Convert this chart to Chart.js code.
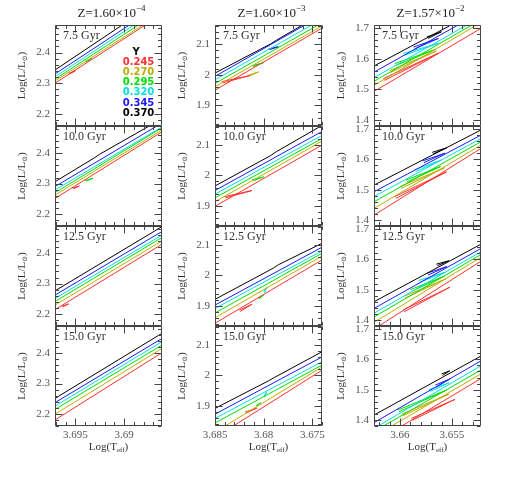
<!DOCTYPE html>
<html>
<head>
<meta charset="utf-8">
<script src="https://cdn.jsdelivr.net/npm/chart.js@4.4.1/dist/chart.umd.min.js"></script>
<style>
  html, body { margin: 0; padding: 0; background: #fff; }
  #wrap { position: relative; width: 507px; height: 477px; overflow: hidden; }
  #wrap canvas { position: absolute; }
</style>
</head>
<body>
<div id="wrap"></div>
<script>
// helium abundances, one track per value (red ... black)
const helium = ['0.245', '0.270', '0.295', '0.320', '0.345', '0.370'];
const trackColors = ['#ff3030', '#bcae00', '#00dd00', '#00e0e0', '#1a1aff', '#000000'];
const ages = ['7.5 Gyr', '10.0 Gyr', '12.5 Gyr', '15.0 Gyr'];
const zMantissa = ['1.60', '1.60', '1.57'];
const zExponent = ['\u22124', '\u22123', '\u22122'];

// axis ranges per column: log Teff (hot edge first) and log L
const teffRange = [[3.6971, 3.6861], [3.685, 3.674], [3.6625, 3.6522]];
const lumRange = [[2.16, 2.49], [1.833, 2.163], [1.38, 1.71]];

// log L of each track at the hot (left) edge and cool (right) edge; rows = ages
const hotL1 = [
  [2.300, 2.307, 2.313, 2.321, 2.330, 2.343],
  [2.251, 2.262, 2.270, 2.279, 2.290, 2.306],
  [2.214, 2.229, 2.241, 2.251, 2.262, 2.276],
  [2.180, 2.199, 2.215, 2.226, 2.237, 2.251]
];
const coolL1 = [
  [2.525, 2.530, 2.540, 2.550, 2.560, 2.577],
  [2.471, 2.477, 2.484, 2.487, 2.500, 2.514],
  [2.430, 2.441, 2.452, 2.460, 2.472, 2.488],
  [2.402, 2.416, 2.427, 2.438, 2.449, 2.466]
];
const hotL2 = [
  [1.950, 1.961, 1.972, 1.984, 1.995, 2.006],
  [1.898, 1.913, 1.926, 1.938, 1.950, 1.965],
  [1.842, 1.860, 1.876, 1.891, 1.902, 1.921],
  [1.795, 1.813, 1.843, 1.858, 1.872, 1.891]
];
const coolL2 = [
  [2.153, 2.160, 2.170, 2.182, 2.195, 2.200],
  [2.100, 2.113, 2.122, 2.132, 2.145, 2.165],
  [2.051, 2.064, 2.073, 2.081, 2.093, 2.106],
  [2.017, 2.028, 2.034, 2.045, 2.061, 2.078]
];
const hotL3 = [
  [1.493, 1.513, 1.526, 1.538, 1.556, 1.576],
  [1.416, 1.438, 1.460, 1.477, 1.493, 1.515],
  [1.370, 1.392, 1.410, 1.422, 1.438, 1.460],
  [1.325, 1.346, 1.362, 1.372, 1.391, 1.416]
];
const coolL3 = [
  [1.699, 1.718, 1.727, 1.736, 1.752, 1.762],
  [1.636, 1.647, 1.658, 1.669, 1.680, 1.697],
  [1.594, 1.607, 1.616, 1.625, 1.636, 1.650],
  [1.537, 1.552, 1.565, 1.579, 1.595, 1.611]
];

// small steps along a track: [row, track, logT, logL, logT, logL]
const kinks1 = [
  [1, 5, 3.6930, 2.386, 3.6925, 2.397]
];
const kinks2 = [
  [0, 5, 3.6793, 2.101, 3.6787, 2.113],
  [1, 5, 3.6793, 2.065, 3.6787, 2.078],
  [2, 5, 3.6790, 2.024, 3.6785, 2.035],
  [3, 5, 3.6795, 1.982, 3.6789, 1.993]
];
const kinks3 = [];

// bump loops: [row, track, logT, logL, logT, logL, logT, logL]
const loops1 = [
  [0, 0, 3.6957, 2.332, 3.6950, 2.340, 3.6956, 2.330],
  [0, 2, 3.6940, 2.372, 3.6933, 2.380, 3.6939, 2.370],
  [1, 0, 3.6953, 2.285, 3.6946, 2.292, 3.6952, 2.283],
  [1, 2, 3.6940, 2.310, 3.6932, 2.318, 3.6939, 2.308],
  [2, 0, 3.6964, 2.225, 3.6957, 2.233, 3.6963, 2.223]
];
const loops2 = [
  [0, 0, 3.6843, 1.978, 3.6814, 1.998, 3.6842, 1.974],
  [0, 1, 3.6815, 2.000, 3.6805, 2.010, 3.6814, 1.997],
  [0, 2, 3.6812, 2.030, 3.6800, 2.040, 3.6811, 2.027],
  [0, 4, 3.6795, 2.085, 3.6785, 2.092, 3.6794, 2.082],
  [1, 0, 3.6840, 1.930, 3.6812, 1.950, 3.6839, 1.926],
  [1, 2, 3.6812, 1.985, 3.6800, 1.995, 3.6811, 1.982],
  [2, 0, 3.6825, 1.885, 3.6812, 1.905, 3.6824, 1.881],
  [2, 2, 3.6806, 1.925, 3.6800, 1.935, 3.6805, 1.922],
  [2, 3, 3.6800, 1.945, 3.6797, 1.960, 3.6799, 1.942],
  [3, 0, 3.6819, 1.879, 3.6807, 1.892, 3.6818, 1.876],
  [3, 2, 3.6808, 1.900, 3.6803, 1.910, 3.6807, 1.897],
  [3, 3, 3.6800, 1.930, 3.6797, 1.945, 3.6799, 1.927]
];
const loops3 = [
  [0, 0, 3.6616, 1.535, 3.6563, 1.618, 3.6615, 1.529],
  [0, 1, 3.6610, 1.561, 3.6565, 1.625, 3.6609, 1.555],
  [0, 2, 3.6605, 1.584, 3.6566, 1.630, 3.6604, 1.578],
  [0, 3, 3.6597, 1.617, 3.6563, 1.650, 3.6596, 1.611],
  [0, 4, 3.6587, 1.638, 3.6563, 1.666, 3.6586, 1.632],
  [0, 5, 3.6574, 1.671, 3.6560, 1.688, 3.6573, 1.666],
  [1, 0, 3.6605, 1.477, 3.6555, 1.559, 3.6604, 1.471],
  [1, 1, 3.6600, 1.510, 3.6557, 1.572, 3.6599, 1.504],
  [1, 2, 3.6594, 1.532, 3.6561, 1.576, 3.6593, 1.526],
  [1, 3, 3.6586, 1.565, 3.6560, 1.598, 3.6585, 1.559],
  [1, 4, 3.6578, 1.595, 3.6557, 1.620, 3.6577, 1.589],
  [1, 5, 3.6569, 1.623, 3.6555, 1.638, 3.6568, 1.618],
  [2, 0, 3.6597, 1.433, 3.6552, 1.508, 3.6596, 1.427],
  [2, 1, 3.6596, 1.478, 3.6555, 1.537, 3.6595, 1.472],
  [2, 2, 3.6590, 1.500, 3.6557, 1.545, 3.6589, 1.494],
  [2, 3, 3.6582, 1.530, 3.6556, 1.558, 3.6581, 1.524],
  [2, 4, 3.6574, 1.554, 3.6555, 1.576, 3.6573, 1.548],
  [2, 5, 3.6565, 1.584, 3.6553, 1.595, 3.6564, 1.579],
  [3, 0, 3.6589, 1.405, 3.6547, 1.468, 3.6588, 1.399],
  [3, 1, 3.6598, 1.420, 3.6553, 1.485, 3.6597, 1.414],
  [3, 2, 3.6602, 1.433, 3.6555, 1.499, 3.6601, 1.427],
  [3, 3, 3.6572, 1.500, 3.6553, 1.522, 3.6571, 1.494],
  [3, 4, 3.6566, 1.515, 3.6552, 1.535, 3.6565, 1.509],
  [3, 5, 3.6560, 1.552, 3.6552, 1.562, 3.6559, 1.547]
];

const hotL = [hotL1, hotL2, hotL3];
const coolL = [coolL1, coolL2, coolL3];
const kinks = [kinks1, kinks2, kinks3];
const loops = [loops1, loops2, loops3];

const serif = 'Liberation Serif, DejaVu Serif, serif';
const panelLeft = [55, 215, 374];
const panelTop = [25, 126, 226, 326];
const panelW = 107;
const panelH = [101, 100, 100, 100];

function fmt(v) { return String(+v.toFixed(3)); }

function drawSubText(ctx, parts, x, y, align) {
  // parts: [text, size, dy]
  let total = 0;
  parts.forEach(p => { ctx.font = p[1] + 'px ' + serif; total += ctx.measureText(p[0]).width; });
  let cx = align === 'center' ? x - total / 2 : x;
  parts.forEach(p => {
    ctx.font = p[1] + 'px ' + serif;
    ctx.fillText(p[0], cx, y + p[2]);
    cx += ctx.measureText(p[0]).width;
  });
}

const framePlugin = {
  id: 'frame',
  afterDraw(chart) {
    const { ctx, chartArea: a, scales } = chart;
    const o = chart.options.plugins.frame;
    const xs = scales.x, ys = scales.y;
    const L = Math.round(a.left) + 0.5, Rt = Math.round(a.right) - 0.5;
    const T = Math.round(a.top) + 0.5, Bt = Math.round(a.bottom) - 0.5;
    ctx.save();
    ctx.setLineDash([]);
    ctx.strokeStyle = '#444444';
    ctx.lineWidth = 1;
    ctx.beginPath();
    ctx.moveTo(L, T); ctx.lineTo(Rt, T); ctx.lineTo(Rt, Bt); ctx.lineTo(L, Bt); ctx.closePath();
    // x ticks (minor 0.001, major 0.005)
    const xmin = Math.min(xs.min, xs.max), xmax = Math.max(xs.min, xs.max);
    for (let k = Math.ceil(xmin / o.xMinor - 1e-6); k * o.xMinor <= xmax + 1e-9; k++) {
      const v = k * o.xMinor;
      const px = Math.round(xs.getPixelForValue(v)) + 0.5;
      const major = Math.abs(v / 0.005 - Math.round(v / 0.005)) < 1e-6;
      const len = major ? 7 : 3.5;
      ctx.moveTo(px, T); ctx.lineTo(px, T + len);
      ctx.moveTo(px, Bt); ctx.lineTo(px, Bt - len);
    }
    for (let k = Math.ceil(ys.min / 0.02 - 1e-6); k * 0.02 <= ys.max + 1e-9; k++) {
      const v = k * 0.02;
      const py = Math.round(ys.getPixelForValue(v)) + 0.5;
      const major = Math.abs(v / 0.1 - Math.round(v / 0.1)) < 1e-6;
      const len = major ? 7 : 3.5;
      ctx.moveTo(L, py); ctx.lineTo(L + len, py);
      ctx.moveTo(Rt, py); ctx.lineTo(Rt - len, py);
    }
    ctx.stroke();

    ctx.fillStyle = '#333';
    ctx.textBaseline = 'middle';
    ctx.textAlign = 'left';
    ctx.font = '12px ' + serif;
    ctx.fillText(o.age, a.left + 8, a.top + 11);

    // y axis title, rotated
    ctx.save();
    ctx.translate(a.left - 33, (a.top + a.bottom) / 2);
    ctx.rotate(-Math.PI / 2);
    drawSubText(ctx, [['Log(L/L', 11, 0], ['\u2299', 7, 3], [')', 11, 0]], 0, 0, 'center');
    ctx.restore();

    if (o.title) {
      ctx.fillStyle = '#222';
      drawSubText(ctx, [['Z=' + o.title[0] + '\u00d710', 13, 0], [o.title[1], 9, -5]],
        (a.left + a.right) / 2 + 3, a.top - 11, 'center');
    }
    if (o.xTitle) {
      ctx.fillStyle = '#333';
      drawSubText(ctx, [['Log(T', 11, 0], ['eff', 7, 3], [')', 11, 0]],
        (a.left + a.right) / 2, a.bottom + 21, 'center');
    }
    if (o.legend) {
      ctx.textAlign = 'center';
      ctx.font = 'bold 10px DejaVu Sans, sans-serif';
      ctx.fillStyle = '#111';
      ctx.fillText('Y', a.left + 81, a.top + 27);
      helium.forEach((h, i) => {
        ctx.fillStyle = trackColors[i];
        ctx.fillText(h, a.left + 83.5, a.top + 37 + i * 10.3);
      });
    }
    ctx.restore();
  }
};

const wrap = document.getElementById('wrap');

for (let c = 0; c < 3; c++) {
  for (let r = 0; r < 4; r++) {
    const top = r === 0 ? 25 : 3;
    const bottomRow = r === 3;
    const xH = bottomRow ? 20 : 0;
    const B = bottomRow ? 30 : 3;
    const R = 6;
    const canvas = document.createElement('canvas');
    canvas.width = 50 + panelW + R;
    canvas.height = top + panelH[r] + xH + B;
    canvas.style.left = (panelLeft[c] - 50) + 'px';
    canvas.style.top = (panelTop[r] - top) + 'px';
    wrap.appendChild(canvas);

    const [hot, cool] = teffRange[c];
    const datasets = helium.map((h, i) => {
      const pts = [{ x: hot, y: hotL[c][r][i] }];
      kinks[c].filter(k => k[0] === r && k[1] === i).forEach(k => {
        pts.push({ x: k[2], y: k[3] }, { x: k[4], y: k[5] });
      });
      pts.push({ x: cool, y: coolL[c][r][i] });
      return {
        label: 'Y=' + h,
        data: pts,
        borderColor: trackColors[i],
        borderWidth: 1,
        showLine: true,
        pointRadius: 0,
        clip: 0
      };
    });
    loops[c].filter(l => l[0] === r).forEach(l => {
      datasets.push({
        label: 'loop',
        data: [{ x: l[2], y: l[3] }, { x: l[4], y: l[5] }, { x: l[6], y: l[7] }],
        borderColor: trackColors[l[1]],
        borderWidth: 1,
        showLine: true,
        pointRadius: 0,
        clip: 0
      });
    });

    new Chart(canvas, {
      type: 'scatter',
      data: { datasets },
      plugins: [framePlugin],
      options: {
        animation: false,
        responsive: false,
        events: [],
        layout: { padding: { left: 0, right: R, top: top, bottom: B } },
        plugins: {
          legend: { display: false },
          tooltip: { enabled: false },
          frame: {
            age: ages[r],
            xMinor: 0.001,
            title: r === 0 ? [zMantissa[c], zExponent[c]] : null,
            xTitle: bottomRow,
            legend: c === 0 && r === 0
          }
        },
        scales: {
          x: {
            type: 'linear',
            reverse: true,
            min: cool,
            max: hot,
            grid: { display: false, drawTicks: false, tickLength: 0 },
            border: { display: false },
            ticks: {
              display: bottomRow,
              stepSize: 0.005,
              includeBounds: false,
              autoSkip: false,
              maxRotation: 0,
              padding: 3,
              color: '#555',
              font: { family: serif, size: 11 },
              callback: v => fmt(v)
            },
            afterFit: s => {
              s.height = xH;
              s.paddingLeft = 0; s.paddingRight = 0; s.paddingTop = 0; s.paddingBottom = 0;
            }
          },
          y: {
            type: 'linear',
            min: lumRange[c][0],
            max: lumRange[c][1],
            grid: { display: false, drawTicks: false, tickLength: 0 },
            border: { display: false },
            ticks: {
              stepSize: 0.1,
              includeBounds: false,
              autoSkip: false,
              padding: 5,
              color: '#555',
              font: { family: serif, size: 11 },
              callback: v => fmt(v)
            },
            afterFit: s => {
              s.width = 50;
              s.paddingLeft = 0; s.paddingRight = 0; s.paddingTop = 0; s.paddingBottom = 0;
            }
          }
        }
      }
    });
  }
}
</script>
</body>
</html>
